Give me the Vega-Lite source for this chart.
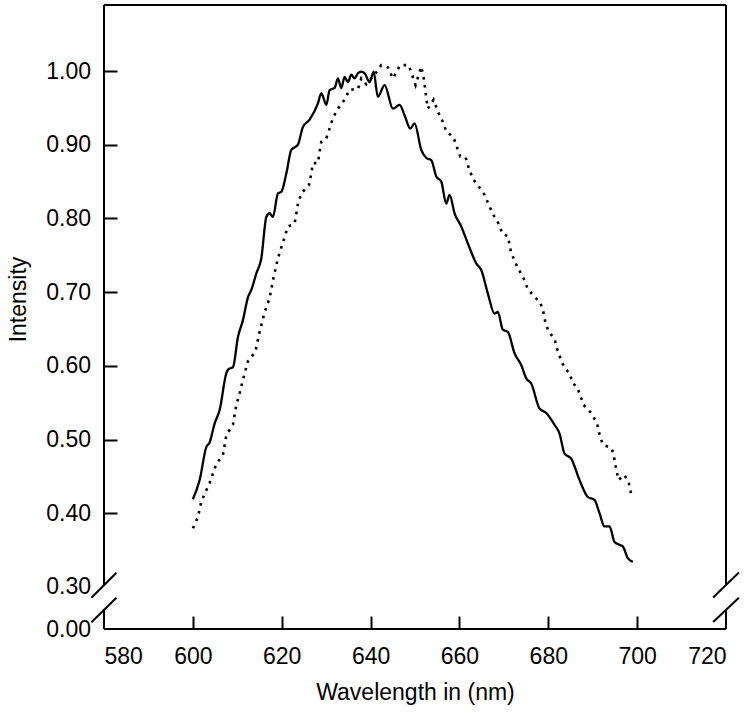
{
  "$schema": "https://vega.github.io/schema/vega-lite/v6.json",
  "width": 622,
  "height": 624,
  "autosize": {"type": "none"},
  "padding": {"left": 104, "top": 5, "right": 24, "bottom": 84},
  "background": "white",
  "config": {
    "view": {"stroke": null},
    "font": "Liberation Sans",
    "axis": {
      "labelFont": "Liberation Sans",
      "titleFont": "Liberation Sans",
      "labelColor": "black",
      "titleColor": "black",
      "labelFontSize": 23,
      "titleFontSize": 23,
      "titleFontWeight": "normal",
      "grid": false,
      "domain": false,
      "tickWidth": 2
    }
  },
  "datasets": {
    "frame": [
      {"wavelength": 580, "wavelength_end": 720, "intensity": 1.0896, "intensity_end": 1.0896},
      {"wavelength": 580, "wavelength_end": 720, "intensity": 0, "intensity_end": 0},
      {"wavelength": 580, "wavelength_end": 580, "intensity": 0.303, "intensity_end": 1.0896},
      {"wavelength": 580, "wavelength_end": 580, "intensity": 0, "intensity_end": 0.14},
      {"wavelength": 720, "wavelength_end": 720, "intensity": 0.303, "intensity_end": 1.0896},
      {"wavelength": 720, "wavelength_end": 720, "intensity": 0, "intensity_end": 0.14},
      {"wavelength": 577.17, "wavelength_end": 582.79, "intensity": 0.223, "intensity_end": 0.3193},
      {"wavelength": 577.17, "wavelength_end": 582.79, "intensity": 0.048, "intensity_end": 0.223},
      {"wavelength": 717.1, "wavelength_end": 722.9, "intensity": 0.225, "intensity_end": 0.3195},
      {"wavelength": 717.1, "wavelength_end": 722.9, "intensity": 0.05, "intensity_end": 0.223}
    ],
    "curves": [
      {"series": "solid", "wavelength": 600.0, "intensity": 0.419},
      {"series": "solid", "wavelength": 601.53, "intensity": 0.445},
      {"series": "solid", "wavelength": 603.04, "intensity": 0.490},
      {"series": "solid", "wavelength": 603.78, "intensity": 0.496},
      {"series": "solid", "wavelength": 604.91, "intensity": 0.522},
      {"series": "solid", "wavelength": 606.03, "intensity": 0.540},
      {"series": "solid", "wavelength": 607.54, "intensity": 0.590},
      {"series": "solid", "wavelength": 608.12, "intensity": 0.596},
      {"series": "solid", "wavelength": 609.02, "intensity": 0.598},
      {"series": "solid", "wavelength": 610.15, "intensity": 0.639},
      {"series": "solid", "wavelength": 611.27, "intensity": 0.662},
      {"series": "solid", "wavelength": 612.40, "intensity": 0.693},
      {"series": "solid", "wavelength": 613.16, "intensity": 0.703},
      {"series": "solid", "wavelength": 614.29, "intensity": 0.7255},
      {"series": "solid", "wavelength": 615.41, "intensity": 0.746},
      {"series": "solid", "wavelength": 616.54, "intensity": 0.802},
      {"series": "solid", "wavelength": 617.28, "intensity": 0.807},
      {"series": "solid", "wavelength": 618.02, "intensity": 0.802},
      {"series": "solid", "wavelength": 619.15, "intensity": 0.834},
      {"series": "solid", "wavelength": 619.91, "intensity": 0.836},
      {"series": "solid", "wavelength": 621.04, "intensity": 0.861},
      {"series": "solid", "wavelength": 622.16, "intensity": 0.893},
      {"series": "solid", "wavelength": 623.65, "intensity": 0.900},
      {"series": "solid", "wavelength": 624.77, "intensity": 0.924},
      {"series": "solid", "wavelength": 626.28, "intensity": 0.934},
      {"series": "solid", "wavelength": 628.15, "intensity": 0.956},
      {"series": "solid", "wavelength": 628.91, "intensity": 0.970},
      {"series": "solid", "wavelength": 630.04, "intensity": 0.954},
      {"series": "solid", "wavelength": 630.78, "intensity": 0.974},
      {"series": "solid", "wavelength": 631.91, "intensity": 0.977},
      {"series": "solid", "wavelength": 632.65, "intensity": 0.990},
      {"series": "solid", "wavelength": 633.41, "intensity": 0.977},
      {"series": "solid", "wavelength": 634.15, "intensity": 0.992},
      {"series": "solid", "wavelength": 634.90, "intensity": 0.985},
      {"series": "solid", "wavelength": 635.66, "intensity": 0.995},
      {"series": "solid", "wavelength": 636.40, "intensity": 0.990},
      {"series": "solid", "wavelength": 637.15, "intensity": 0.997},
      {"series": "solid", "wavelength": 637.91, "intensity": 0.999},
      {"series": "solid", "wavelength": 638.66, "intensity": 0.997},
      {"series": "solid", "wavelength": 639.78, "intensity": 0.985},
      {"series": "solid", "wavelength": 640.68, "intensity": 0.999},
      {"series": "solid", "wavelength": 641.65, "intensity": 0.965},
      {"series": "solid", "wavelength": 643.16, "intensity": 0.981},
      {"series": "solid", "wavelength": 645.02, "intensity": 0.949},
      {"series": "solid", "wavelength": 646.53, "intensity": 0.954},
      {"series": "solid", "wavelength": 647.65, "intensity": 0.940},
      {"series": "solid", "wavelength": 648.94, "intensity": 0.922},
      {"series": "solid", "wavelength": 649.90, "intensity": 0.929},
      {"series": "solid", "wavelength": 651.41, "intensity": 0.893},
      {"series": "solid", "wavelength": 652.54, "intensity": 0.882},
      {"series": "solid", "wavelength": 653.66, "intensity": 0.879},
      {"series": "solid", "wavelength": 654.79, "intensity": 0.857},
      {"series": "solid", "wavelength": 655.91, "intensity": 0.850},
      {"series": "solid", "wavelength": 657.04, "intensity": 0.820},
      {"series": "solid", "wavelength": 657.78, "intensity": 0.832},
      {"series": "solid", "wavelength": 658.91, "intensity": 0.807},
      {"series": "solid", "wavelength": 660.41, "intensity": 0.789},
      {"series": "solid", "wavelength": 661.90, "intensity": 0.766},
      {"series": "solid", "wavelength": 663.79, "intensity": 0.739},
      {"series": "solid", "wavelength": 664.91, "intensity": 0.730},
      {"series": "solid", "wavelength": 666.40, "intensity": 0.698},
      {"series": "solid", "wavelength": 667.90, "intensity": 0.671},
      {"series": "solid", "wavelength": 668.65, "intensity": 0.673},
      {"series": "solid", "wavelength": 669.77, "intensity": 0.649},
      {"series": "solid", "wavelength": 670.90, "intensity": 0.646},
      {"series": "solid", "wavelength": 672.40, "intensity": 0.617},
      {"series": "solid", "wavelength": 673.91, "intensity": 0.601},
      {"series": "solid", "wavelength": 675.04, "intensity": 0.583},
      {"series": "solid", "wavelength": 676.16, "intensity": 0.576},
      {"series": "solid", "wavelength": 678.03, "intensity": 0.542},
      {"series": "solid", "wavelength": 679.54, "intensity": 0.536},
      {"series": "solid", "wavelength": 681.40, "intensity": 0.520},
      {"series": "solid", "wavelength": 682.53, "intensity": 0.508},
      {"series": "solid", "wavelength": 683.66, "intensity": 0.481},
      {"series": "solid", "wavelength": 685.16, "intensity": 0.474},
      {"series": "solid", "wavelength": 687.03, "intensity": 0.445},
      {"series": "solid", "wavelength": 688.90, "intensity": 0.422},
      {"series": "solid", "wavelength": 690.40, "intensity": 0.418},
      {"series": "solid", "wavelength": 691.53, "intensity": 0.400},
      {"series": "solid", "wavelength": 692.65, "intensity": 0.382},
      {"series": "solid", "wavelength": 693.78, "intensity": 0.382},
      {"series": "solid", "wavelength": 694.90, "intensity": 0.361},
      {"series": "solid", "wavelength": 696.03, "intensity": 0.357},
      {"series": "solid", "wavelength": 696.77, "intensity": 0.355},
      {"series": "solid", "wavelength": 697.90, "intensity": 0.339},
      {"series": "solid", "wavelength": 699.02, "intensity": 0.334},
      {"series": "dotted", "wavelength": 600.02, "intensity": 0.3795},
      {"series": "dotted", "wavelength": 601.15, "intensity": 0.395},
      {"series": "dotted", "wavelength": 601.91, "intensity": 0.416},
      {"series": "dotted", "wavelength": 603.78, "intensity": 0.441},
      {"series": "dotted", "wavelength": 605.29, "intensity": 0.467},
      {"series": "dotted", "wavelength": 606.77, "intensity": 0.479},
      {"series": "dotted", "wavelength": 607.54, "intensity": 0.506},
      {"series": "dotted", "wavelength": 609.02, "intensity": 0.520},
      {"series": "dotted", "wavelength": 609.79, "intensity": 0.547},
      {"series": "dotted", "wavelength": 610.53, "intensity": 0.563},
      {"series": "dotted", "wavelength": 611.66, "intensity": 0.590},
      {"series": "dotted", "wavelength": 612.40, "intensity": 0.606},
      {"series": "dotted", "wavelength": 614.06, "intensity": 0.619},
      {"series": "dotted", "wavelength": 615.03, "intensity": 0.646},
      {"series": "dotted", "wavelength": 616.16, "intensity": 0.673},
      {"series": "dotted", "wavelength": 617.28, "intensity": 0.692},
      {"series": "dotted", "wavelength": 618.02, "intensity": 0.716},
      {"series": "dotted", "wavelength": 619.15, "intensity": 0.746},
      {"series": "dotted", "wavelength": 620.66, "intensity": 0.775},
      {"series": "dotted", "wavelength": 621.40, "intensity": 0.789},
      {"series": "dotted", "wavelength": 622.91, "intensity": 0.793},
      {"series": "dotted", "wavelength": 623.65, "intensity": 0.820},
      {"series": "dotted", "wavelength": 624.41, "intensity": 0.834},
      {"series": "dotted", "wavelength": 626.12, "intensity": 0.845},
      {"series": "dotted", "wavelength": 626.66, "intensity": 0.861},
      {"series": "dotted", "wavelength": 627.02, "intensity": 0.875},
      {"series": "dotted", "wavelength": 628.15, "intensity": 0.875},
      {"series": "dotted", "wavelength": 628.53, "intensity": 0.891},
      {"series": "dotted", "wavelength": 628.91, "intensity": 0.904},
      {"series": "dotted", "wavelength": 630.04, "intensity": 0.909},
      {"series": "dotted", "wavelength": 630.78, "intensity": 0.922},
      {"series": "dotted", "wavelength": 631.52, "intensity": 0.936},
      {"series": "dotted", "wavelength": 632.65, "intensity": 0.949},
      {"series": "dotted", "wavelength": 634.15, "intensity": 0.961},
      {"series": "dotted", "wavelength": 635.28, "intensity": 0.975},
      {"series": "dotted", "wavelength": 637.15, "intensity": 0.975},
      {"series": "dotted", "wavelength": 637.91, "intensity": 0.990},
      {"series": "dotted", "wavelength": 639.04, "intensity": 0.982},
      {"series": "dotted", "wavelength": 640.91, "intensity": 0.995},
      {"series": "dotted", "wavelength": 642.41, "intensity": 1.008},
      {"series": "dotted", "wavelength": 643.90, "intensity": 1.005},
      {"series": "dotted", "wavelength": 645.02, "intensity": 0.990},
      {"series": "dotted", "wavelength": 646.64, "intensity": 1.008},
      {"series": "dotted", "wavelength": 648.55, "intensity": 1.008},
      {"series": "dotted", "wavelength": 649.34, "intensity": 0.995},
      {"series": "dotted", "wavelength": 650.13, "intensity": 0.981},
      {"series": "dotted", "wavelength": 651.41, "intensity": 1.006},
      {"series": "dotted", "wavelength": 651.93, "intensity": 0.992},
      {"series": "dotted", "wavelength": 652.27, "intensity": 0.977},
      {"series": "dotted", "wavelength": 652.54, "intensity": 0.963},
      {"series": "dotted", "wavelength": 652.90, "intensity": 0.949},
      {"series": "dotted", "wavelength": 654.18, "intensity": 0.961},
      {"series": "dotted", "wavelength": 655.15, "intensity": 0.945},
      {"series": "dotted", "wavelength": 656.27, "intensity": 0.931},
      {"series": "dotted", "wavelength": 657.04, "intensity": 0.918},
      {"series": "dotted", "wavelength": 658.68, "intensity": 0.910},
      {"series": "dotted", "wavelength": 659.42, "intensity": 0.897},
      {"series": "dotted", "wavelength": 660.19, "intensity": 0.884},
      {"series": "dotted", "wavelength": 661.38, "intensity": 0.883},
      {"series": "dotted", "wavelength": 662.12, "intensity": 0.868},
      {"series": "dotted", "wavelength": 663.02, "intensity": 0.854},
      {"series": "dotted", "wavelength": 664.37, "intensity": 0.843},
      {"series": "dotted", "wavelength": 665.65, "intensity": 0.832},
      {"series": "dotted", "wavelength": 666.78, "intensity": 0.816},
      {"series": "dotted", "wavelength": 667.90, "intensity": 0.802},
      {"series": "dotted", "wavelength": 669.03, "intensity": 0.791},
      {"series": "dotted", "wavelength": 669.64, "intensity": 0.779},
      {"series": "dotted", "wavelength": 670.90, "intensity": 0.776},
      {"series": "dotted", "wavelength": 671.62, "intensity": 0.754},
      {"series": "dotted", "wavelength": 673.03, "intensity": 0.734},
      {"series": "dotted", "wavelength": 674.43, "intensity": 0.719},
      {"series": "dotted", "wavelength": 675.33, "intensity": 0.705},
      {"series": "dotted", "wavelength": 676.52, "intensity": 0.696},
      {"series": "dotted", "wavelength": 678.19, "intensity": 0.686},
      {"series": "dotted", "wavelength": 678.93, "intensity": 0.672},
      {"series": "dotted", "wavelength": 679.38, "intensity": 0.658},
      {"series": "dotted", "wavelength": 680.12, "intensity": 0.646},
      {"series": "dotted", "wavelength": 681.40, "intensity": 0.637},
      {"series": "dotted", "wavelength": 681.92, "intensity": 0.624},
      {"series": "dotted", "wavelength": 682.75, "intensity": 0.610},
      {"series": "dotted", "wavelength": 683.65, "intensity": 0.597},
      {"series": "dotted", "wavelength": 684.78, "intensity": 0.590},
      {"series": "dotted", "wavelength": 685.52, "intensity": 0.576},
      {"series": "dotted", "wavelength": 686.42, "intensity": 0.572},
      {"series": "dotted", "wavelength": 687.19, "intensity": 0.560},
      {"series": "dotted", "wavelength": 687.93, "intensity": 0.547},
      {"series": "dotted", "wavelength": 689.80, "intensity": 0.535},
      {"series": "dotted", "wavelength": 691.01, "intensity": 0.521},
      {"series": "dotted", "wavelength": 691.53, "intensity": 0.507},
      {"series": "dotted", "wavelength": 692.27, "intensity": 0.493},
      {"series": "dotted", "wavelength": 694.30, "intensity": 0.488},
      {"series": "dotted", "wavelength": 694.90, "intensity": 0.473},
      {"series": "dotted", "wavelength": 695.29, "intensity": 0.460},
      {"series": "dotted", "wavelength": 695.80, "intensity": 0.445},
      {"series": "dotted", "wavelength": 697.15, "intensity": 0.452},
      {"series": "dotted", "wavelength": 698.12, "intensity": 0.441},
      {"series": "dotted", "wavelength": 698.66, "intensity": 0.426}
    ]
  },
  "encoding": {
    "x": {
      "field": "wavelength", "type": "quantitative", "title": "Wavelength in (nm)",
      "scale": {"domain": [580, 720], "nice": false, "zero": false},
      "axis": {
        "values": [580, 600, 620, 640, 660, 680, 700, 720],
        "format": "d",
        "tickSize": -13,
        "tickColor": {"condition": {"test": "datum.value < 590 || datum.value > 710", "value": "transparent"}, "value": "black"},
        "labelFontSize": 23,
        "labelPadding": 29,
        "titleFontSize": 23,
        "titleX": 311,
        "titleY": 63,
        "titleBaseline": "middle"
      }
    },
    "y": {
      "field": "intensity", "type": "quantitative", "title": "Intensity",
      "scale": {"domain": [0, 0.3, 1.0896], "range": [624, 581.9, 0], "nice": false, "zero": false},
      "axis": {
        "values": [0, 0.3, 0.4, 0.5, 0.6, 0.7, 0.8, 0.9, 1.0],
        "format": ".2f",
        "tickSize": -13,
        "tickColor": {"condition": {"test": "datum.value < 0.35", "value": "transparent"}, "value": "black"},
        "labelFontSize": 23,
        "labelPadding": 26.5,
        "titleFontSize": 23,
        "titleX": -86,
        "titleY": 294,
        "titleBaseline": "middle"
      }
    }
  },
  "layer": [
    {
      "data": {"name": "curves"},
      "transform": [{"filter": "datum.series === 'solid'"}],
      "mark": {"type": "line", "color": "black", "strokeWidth": 2.3, "interpolate": "monotone"}
    },
    {
      "data": {"name": "curves"},
      "transform": [{"filter": "datum.series === 'dotted'"}],
      "mark": {"type": "line", "color": "black", "strokeWidth": 2.6, "strokeDash": [2.6, 5.4]}
    },
    {
      "data": {"name": "frame"},
      "mark": {"type": "rule", "color": "black", "strokeWidth": 2},
      "encoding": {
        "x2": {"field": "wavelength_end"},
        "y2": {"field": "intensity_end"}
      }
    }
  ]
}
